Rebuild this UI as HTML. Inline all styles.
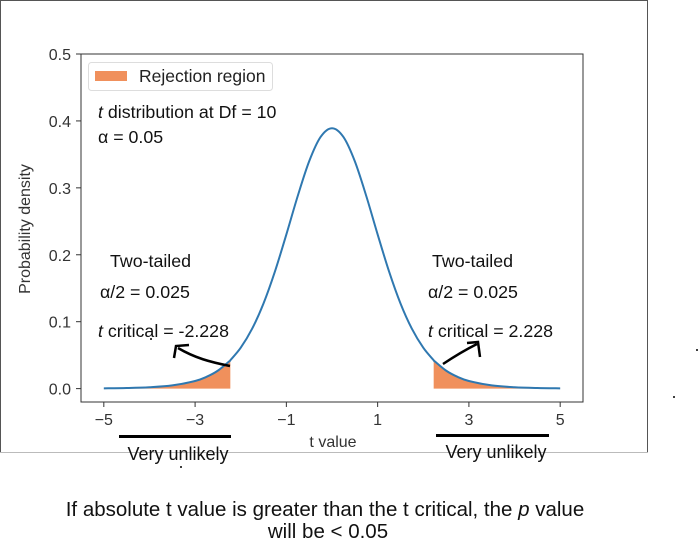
<!DOCTYPE html>
<html><head><meta charset="utf-8">
<style>
body{margin:0;background:#fff;width:700px;height:541px;overflow:hidden;font-family:"Liberation Sans","DejaVu Sans",sans-serif;}
svg{display:block}
</style></head>
<body>
<svg id="chart" width="700" height="541" viewBox="0 0 700 541">
  <rect x="0.5" y="0.5" width="647" height="452" fill="none" stroke="#bbb" stroke-width="1"/>
  <path d="M0.5 452 V0.5 H647.5 V452" fill="none" stroke="#555" stroke-width="1"/>
  <g id="plot"></g>
  <rect x="81" y="54" width="502" height="348" fill="none" stroke="#333" stroke-width="1"/>
  <g>
    <rect x="88.5" y="62.5" width="184" height="28" rx="3" fill="#fff" stroke="#ddd"/>
    <rect x="95" y="71" width="32" height="10" fill="#f0905c"/>
    <text x="139" y="82" font-size="17.5" fill="#222">Rejection region</text>
  </g>
  <text x="98" y="118" font-size="17.8" fill="#111"><tspan font-style="italic">t</tspan> distribution at Df = 10</text>
  <text x="98" y="143" font-size="17.8" fill="#111">α = 0.05</text>
  <text x="30" y="229" font-size="16" fill="#333" text-anchor="middle" transform="rotate(-90 30 229)">Probability density</text>
  <text x="333" y="447" font-size="16" fill="#333" text-anchor="middle">t value</text>
  <text x="110" y="267" font-size="17.8" fill="#111">Two-tailed</text>
  <text x="100" y="298" font-size="17.8" fill="#111">α/2 = 0.025</text>
  <text x="98" y="337" font-size="17.8" fill="#111"><tspan font-style="italic">t</tspan> critical = -2.228</text>
  <text x="432" y="267" font-size="17.8" fill="#111">Two-tailed</text>
  <text x="428" y="298" font-size="17.8" fill="#111">α/2 = 0.025</text>
  <text x="428" y="337" font-size="17.8" fill="#111"><tspan font-style="italic">t</tspan> critical = 2.228</text>
  <path d="M230 366 C210 362 195 358 178 348" fill="none" stroke="#000" stroke-width="2.5"/>
  <path d="M174 358 L176 346 L189 345" fill="none" stroke="#000" stroke-width="2.5"/>
  <path d="M443 364 C455 356 465 350 477 344" fill="none" stroke="#000" stroke-width="2.5"/>
  <path d="M467 343 L478 342 L480 357" fill="none" stroke="#000" stroke-width="2.5"/>
  <rect x="119" y="435" width="112" height="3" fill="#000"/>
  <rect x="436" y="434" width="113" height="3" fill="#000"/>
  <text x="178" y="460" font-size="18" fill="#111" text-anchor="middle">Very unlikely</text>
  <text x="496" y="458" font-size="18" fill="#111" text-anchor="middle">Very unlikely</text>
  <circle cx="181" cy="467" r="1" fill="#000"/><circle cx="151" cy="339" r="1" fill="#000"/>
  <circle cx="697" cy="350" r="1" fill="#000"/><circle cx="674" cy="397" r="1" fill="#000"/>
  <text x="325" y="516" font-size="20.5" fill="#111" text-anchor="middle">If absolute t value is greater than the t critical, the <tspan font-style="italic">p</tspan> value</text>
  <text x="328" y="538" font-size="20.5" fill="#111" text-anchor="middle">will be &lt; 0.05</text>
</svg>
<script>
const tValues=[-5,-4.5,-4,-3.5,-3,-2.75,-2.5,-2.25,-2.228,-2,-1.75,-1.5,-1.25,-1,-0.75,-0.5,-0.25,0,0.25,0.5,0.75,1,1.25,1.5,1.75,2,2.228,2.25,2.5,2.75,3,3.5,4,4.5,5];
const densities=[0.0004,0.00088,0.00203,0.00478,0.0114,0.0176,0.0269,0.0409,0.0424,0.0611,0.0895,0.1274,0.1751,0.2304,0.2880,0.3397,0.3760,0.3891,0.3760,0.3397,0.2880,0.2304,0.1751,0.1274,0.0895,0.0611,0.0424,0.0409,0.0269,0.0176,0.0114,0.00478,0.00203,0.00088,0.0004];
const tCritical=[-2.228,2.228];
const xTicks=[-5,-3,-1,1,3,5];
const xTickLabels=["−5","−3","−1","1","3","5"];
const yTicks=[0,0.1,0.2,0.3,0.4,0.5];
const yTickLabels=["0.0","0.1","0.2","0.3","0.4","0.5"];
const NS="http://www.w3.org/2000/svg";
const X=v=>81+(v+5.5)/11*502;
const Y=v=>402-(v+0.02)/0.52*348;
const g=document.getElementById('plot');
function mk(t,a){const e=document.createElementNS(NS,t);for(const k in a)e.setAttribute(k,a[k]);return e;}
function curve(pts){let d=`M${pts[0][0]},${pts[0][1]}`;for(let i=0;i<pts.length-1;i++){const p0=pts[Math.max(0,i-1)],p1=pts[i],p2=pts[i+1],p3=pts[Math.min(pts.length-1,i+2)];d+=` C${p1[0]+(p2[0]-p0[0])/6},${p1[1]+(p2[1]-p0[1])/6} ${p2[0]-(p3[0]-p1[0])/6},${p2[1]-(p3[1]-p1[1])/6} ${p2[0]},${p2[1]}`;}return d;}
[[tValues[0],tCritical[0]],[tCritical[1],tValues[tValues.length-1]]].forEach((r,i)=>{
  const pts=[];tValues.forEach((t,j)=>{if(t>=r[0]-1e-9&&t<=r[1]+1e-9)pts.push([X(t),Y(densities[j])]);});
  const d=curve(pts)+` L${X(r[1])},${Y(0)} L${X(r[0])},${Y(0)} Z`;
  const p=mk('path',{d:d,fill:'#f0905c'});
  
  
  g.appendChild(p);
});
const line=mk('path',{d:curve(tValues.map((t,j)=>[X(t),Y(densities[j])])),fill:'none',stroke:'#2f78b0','stroke-width':2});


g.appendChild(line);
xTicks.forEach((v,i)=>{
  const tk=mk('line',{x1:X(v),x2:X(v),y1:402,y2:407,stroke:'#333'});
  
  
  g.appendChild(tk);
  const tx=mk('text',{x:X(v),y:425,'font-size':16,fill:'#333','text-anchor':'middle'});
  
  
  tx.textContent=xTickLabels[i];g.appendChild(tx);
});
yTicks.forEach((v,i)=>{
  const tk=mk('line',{x1:76,x2:81,y1:Y(v),y2:Y(v),stroke:'#333'});
  
  
  g.appendChild(tk);
  const tx=mk('text',{x:71,y:Y(v)+6,'font-size':16,fill:'#333','text-anchor':'end'});
  
  
  tx.textContent=yTickLabels[i];g.appendChild(tx);
});
</script>
</body></html>
